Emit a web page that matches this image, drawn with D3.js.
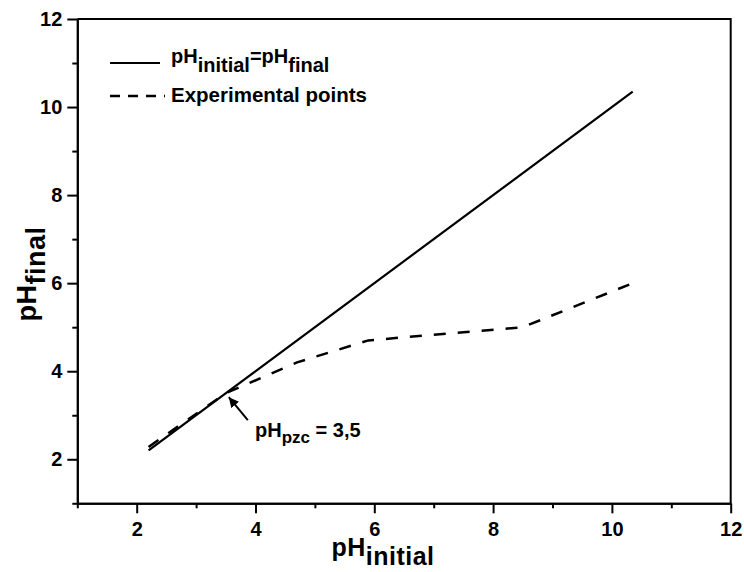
<!DOCTYPE html>
<html lang="en">
<head>
    <title>pH drift</title>
    <script src="https://d3js.org/d3.v7.min.js"></script>
    <style>
        body { margin: 0; background: #fff; }
        text { font-family: "Liberation Sans", Arial, sans-serif; font-weight: bold; fill: #000; }
    </style>
</head>
<body>
    <div id="chart"></div>

    <script>
        // Line where pH initial equals pH final
        const idealX = [2.2, 10.35];
        const idealY = [2.2, 10.35];

        // Experimental points (pH initial, pH final)
        const expX = [2.2, 3.5, 4.7, 5.9, 8.5, 10.35];
        const expY = [2.28, 3.5, 4.2, 4.7, 5.0, 6.0];

        // Axis ticks
        const majorTicks = [2, 4, 6, 8, 10, 12];
        const minorTicks = [1, 3, 5, 7, 9, 11];

        // Point of zero charge
        const pzc = 3.5;

        const width = 744;
        const height = 572;
        const margin = { top: 19, right: 13.3, bottom: 68.7, left: 77.3 };

        const svg = d3.select("#chart")
            .append("svg")
            .attr("width", width)
            .attr("height", height);

        const x = d3.scaleLinear()
            .domain([1, 12])
            .range([margin.left, width - margin.right]);

        const y = d3.scaleLinear()
            .domain([1, 12])
            .range([height - margin.bottom, margin.top]);

        // Frame (top and right sides)
        svg.append("path")
            .attr("d", `M${x(1)},${y(12)}H${x(12)}V${y(1)}`)
            .attr("fill", "none")
            .attr("stroke", "#000")
            .attr("stroke-width", 2);

        // x axis, major and minor ticks
        svg.append("g")
            .attr("transform", `translate(0, ${y(1)})`)
            .call(d3.axisBottom(x).tickValues(majorTicks).tickSize(10).tickPadding(9).tickSizeOuter(0));
        svg.append("g")
            .attr("transform", `translate(0, ${y(1)})`)
            .call(d3.axisBottom(x).tickValues(minorTicks).tickSize(5).tickFormat("").tickSizeOuter(0));

        // y axis, major and minor ticks
        svg.append("g")
            .attr("transform", `translate(${x(1)}, 0)`)
            .call(d3.axisLeft(y).tickValues(majorTicks).tickSize(10).tickPadding(5).tickSizeOuter(0));
        svg.append("g")
            .attr("transform", `translate(${x(1)}, 0)`)
            .call(d3.axisLeft(y).tickValues(minorTicks).tickSize(5).tickFormat("").tickSizeOuter(0));

        svg.selectAll(".domain").attr("stroke-width", 2);
        svg.selectAll(".tick line").attr("stroke-width", 2);
        svg.selectAll(".tick text")
            .style("font-size", "20px");

        const line = d3.line()
            .x(d => x(d[0]))
            .y(d => y(d[1]));

        // Solid line pH initial = pH final
        svg.append("path")
            .datum(d3.zip(idealX, idealY))
            .attr("d", line)
            .attr("fill", "none")
            .attr("stroke", "#000")
            .attr("stroke-width", 2.2);

        // Dashed experimental line
        svg.append("path")
            .datum(d3.zip(expX, expY))
            .attr("d", line)
            .attr("fill", "none")
            .attr("stroke", "#000")
            .attr("stroke-width", 2.5)
            .attr("stroke-dasharray", "12,12");

        // Axis titles
        const xTitle = svg.append("text")
            .attr("x", 383)
            .attr("y", 556)
            .attr("text-anchor", "middle")
            .style("letter-spacing", "0.5px");
        xTitle.append("tspan").style("font-size", "25px").text("pH");
        xTitle.append("tspan").style("font-size", "25px").attr("dy", 9).text("initial");

        const yTitle = svg.append("text")
            .attr("transform", "translate(36, 274) rotate(-90)")
            .attr("text-anchor", "middle")
            .style("letter-spacing", "0.5px");
        yTitle.append("tspan").style("font-size", "27px").text("pH");
        yTitle.append("tspan").style("font-size", "27px").attr("dy", 9).text("final");

        // Legend
        const legend = svg.append("g");
        legend.append("line")
            .attr("x1", 110).attr("x2", 160)
            .attr("y1", 63).attr("y2", 63)
            .attr("stroke", "#000").attr("stroke-width", 2.2);
        legend.append("line")
            .attr("x1", 110).attr("x2", 165)
            .attr("y1", 96).attr("y2", 96)
            .attr("stroke", "#000").attr("stroke-width", 2.5)
            .attr("stroke-dasharray", "10,8");

        const leg1 = legend.append("text")
            .attr("x", 171).attr("y", 63)
            .style("font-size", "20px");
        leg1.append("tspan").text("pH");
        leg1.append("tspan").attr("dy", 9).text("initial");
        leg1.append("tspan").attr("dy", -9).text("=pH");
        leg1.append("tspan").attr("dy", 9).text("final");

        legend.append("text")
            .attr("x", 171).attr("y", 102)
            .style("font-size", "20.5px")
            .text("Experimental points");

        // Annotation of the point of zero charge
        svg.append("defs").append("marker")
            .attr("id", "arrow")
            .attr("viewBox", "0 0 10 10")
            .attr("refX", 10).attr("refY", 5)
            .attr("markerWidth", 5).attr("markerHeight", 5)
            .attr("orient", "auto")
            .append("path")
            .attr("d", "M0,0L10,5L0,10z")
            .attr("fill", "#000");

        svg.append("line")
            .attr("x1", x(pzc) + 22).attr("y1", y(pzc) + 27)
            .attr("x2", x(pzc) + 3).attr("y2", y(pzc) + 4)
            .attr("stroke", "#000")
            .attr("stroke-width", 2)
            .attr("marker-end", "url(#arrow)");

        const note = svg.append("text")
            .attr("x", 255).attr("y", 437)
            .style("font-size", "20px");
        note.append("tspan").text("pH");
        note.append("tspan").style("font-size", "17px").attr("dy", 6).text("pzc");
        note.append("tspan").attr("dy", -6).text(" = 3,5");
    </script>
</body>
</html>
